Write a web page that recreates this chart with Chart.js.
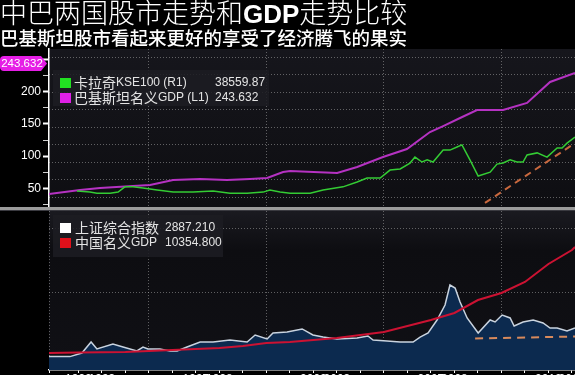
<!DOCTYPE html>
<html><head><meta charset="utf-8">
<script src="https://cdn.jsdelivr.net/npm/chart.js@4.4.0/dist/chart.umd.min.js"></script>
<style>
html,body{margin:0;padding:0;background:#000;width:575px;height:375px;overflow:hidden;}
#wrap{position:relative;width:575px;height:375px;background:#000;}
canvas{position:absolute;left:0;}
#top{top:0;}
#bot{top:211px;}
.t{position:absolute;left:0;color:#fff;white-space:nowrap;font-family:"Noto Sans CJK SC",sans-serif;z-index:5;}
#t1{top:-2px;font-size:27px;line-height:27px;font-weight:300;}
#t1 b{font-family:"Liberation Sans",Arial,sans-serif;font-weight:700;font-size:26px;}
#t2{top:28px;font-size:18.5px;line-height:19px;font-weight:500;}
#sep{position:absolute;left:0;top:207px;width:575px;height:3px;background:#9b9b9b;}
#sep2{position:absolute;left:0;top:210px;width:575px;height:1px;background:#3a3a40;}
</style></head><body>
<div id="wrap">
<canvas id="top" width="575" height="207"></canvas>
<canvas id="bot" width="575" height="164"></canvas>
<div id="sep"></div><div id="sep2"></div>
<div class="t" id="t1">中巴两国股市走势和<b>GDP</b>走势比较</div>
<div class="t" id="t2">巴基斯坦股市看起来更好的享受了经济腾飞的果实</div>
</div>
<script>
// ---------- DATA ----------
const xMin = 1990.75, xMax = 2013.13;
const gridYears = [1995, 2000, 2005, 2010];
const bottomTickYears = [1992,1993,1994,1995,1996,1997,1998,1999,2000,2001,2002,2003,2004,2005,2006,2007,2008,2009,2010,2011,2012,2013];
const xLabelYears = [1992,1993,1997,1998,2002,2003,2007,2008,2012,2013];

const leftTickValues = [25,50,75,100,125,150,175,200,225,250];
const leftLabelValues = [50,100,150,200];
const r1GridValues = [20000,25000,30000,35000,40000,45000,50000,55000,60000];
const shGridValues = [0,5000,10000];

// Karachi KSE100 (R1)
const kseYears = [1991.94,1992.49,1992.79,1993.35,1993.69,1993.98,1994.32,1994.75,1995.35,1996.03,1996.88,1997.73,1998.45,1999.18,1999.86,2000.15,2000.58,2001.01,2001.86,2002.41,2003.26,2003.86,2004.28,2004.84,2005.26,2005.69,2006.11,2006.32,2006.62,2006.84,2007.09,2007.52,2007.81,2008.11,2008.32,2008.66,2009.01,2009.52,2009.81,2010.07,2010.37,2010.66,2010.92,2011.09,2011.52,2011.94,2012.37,2012.58,2012.79,2013.13];
const kseValues = [21700,21400,21100,21100,21400,22900,22900,22600,22000,21400,21400,21700,21100,21100,21400,22000,21400,21100,21100,22000,22900,24300,25400,25400,27700,28000,29700,31400,30000,30600,30000,33400,33400,34300,34900,30600,26000,27100,29400,29700,30600,30000,30000,32000,32600,31400,34000,34000,35400,37100];
// Pakistan nominal GDP (L1)
const pkYears = [1990.75,1992.07,1992.92,1994.32,1995.05,1996.03,1997.18,1998.32,1999.30,2000.03,2000.71,2001.01,2003.01,2003.86,2004.96,2005.98,2006.96,2007.52,2008.24,2008.96,2010.07,2011.09,2012.07,2013.13];
const pkValues = [41.1,47.4,50.5,53.6,55.2,62.9,64.4,62.9,64.4,66.0,75.3,76.9,73.8,83.1,98.6,111.0,137.4,146.7,159.2,171.6,171.6,182.5,215.1,229.0];
// KSE trend (dashed)
const kseTrendYears = [2009.30, 2013.13];
const kseTrendValues = [18300, 35400];

// Shanghai Composite
const shYears = [1990.75,1991.00,1991.64,1992.15,1992.54,1992.79,1993.47,1993.90,1994.49,1994.75,1994.96,1995.47,1995.90,1996.20,1996.62,1997.18,1997.73,1998.45,1999.18,1999.52,2000.03,2000.28,2000.88,2001.52,2001.98,2002.41,2003.00,2003.86,2004.32,2004.54,2005.13,2005.69,2006.24,2006.54,2006.88,2007.26,2007.60,2007.81,2008.03,2008.24,2008.54,2009.01,2009.52,2009.73,2010.03,2010.37,2010.54,2010.92,2011.35,2011.77,2012.07,2012.37,2012.79,2013.13];
const shValues = [30,30,30,310,1170,625,1015,780,470,780,625,625,470,470,780,1170,1170,1330,1170,1720,1405,1875,1950,2190,1720,1560,1405,1485,1640,1330,1250,1170,1170,1560,1875,2890,4060,5625,5390,4300,3050,1875,2890,2735,3280,3050,2420,2735,2890,2655,2265,2265,2030,2265];
// China nominal GDP
const cnYears = [1990.75,1992,1994,1995,1996,1997,1998,1999,2000,2001,2002,2003,2004,2005,2006,2007,2008,2009,2010,2011,2012,2013,2013.13];
const cnValues = [50,100,150,240,340,440,530,730,1020,1120,1310,1510,1800,2090,2670,3260,3940,5200,5880,6950,8700,10060,10355];
// Shanghai trend (dashed)
const shTrendYears = [2008.88, 2013.13];
const shTrendValues = [1445, 1600];

const kseName = '卡拉奇KSE100 (R1)', kseLast = '38559.87';
const pkName = '巴基斯坦名义GDP (L1)', pkLast = '243.632';
const shName = '上证综合指数', shLast = '2887.210';
const cnName = '中国名义GDP', cnLast = '10354.800';

// ---------- HELPERS ----------
const pts = (xs, ys) => xs.map((x, i) => ({x, y: ys[i]}));
const CJK = /[\u3000-\u9fff\uff00-\uffef]+|[^\u3000-\u9fff\uff00-\uffef]+/g;
function drawMixed(ctx, text, x, y, cjkSize, latSize) {
  const runs = text.match(CJK) || [];
  let cx = x;
  runs.forEach(r => {
    const isC = /[\u3000-\u9fff\uff00-\uffef]/.test(r);
    ctx.font = isC ? cjkSize + 'px "Noto Sans CJK SC", sans-serif' : latSize + 'px "Liberation Sans", Arial, sans-serif';
    ctx.fillText(r, cx, y);
    cx += ctx.measureText(r).width;
  });
}
function legend(ctx, box, rows) {
  ctx.save();
  ctx.fillStyle = 'rgba(28,28,34,0.88)';
  ctx.fillRect(box.x, box.y, box.w, box.h);
  ctx.textBaseline = 'middle';
  ctx.textAlign = 'left';
  rows.forEach(r => {
    ctx.fillStyle = r.color;
    ctx.fillRect(box.sx, r.y - 5, 11, 10);
    ctx.fillStyle = '#e4e4e4';
    drawMixed(ctx, r.name, box.tx, r.y, 14, 12);
    ctx.font = '12px "Liberation Sans", Arial, sans-serif';
    ctx.fillText(r.value, box.vx, r.y);
  });
  ctx.restore();
}
const zeroPad = s => { s.paddingTop = 0; s.paddingBottom = 0; s.paddingLeft = 0; s.paddingRight = 0; };
const GRID = 'rgba(175,175,175,0.5)';

Chart.defaults.font.family = '"Liberation Sans", Arial, sans-serif';

// ---------- TOP CHART ----------
const bgTop = {
  id: 'bgTop',
  beforeDraw(c) {
    const {ctx, chartArea: a} = c;
    const g = ctx.createLinearGradient(0, a.top, 0, a.bottom);
    g.addColorStop(0, '#16161c');
    g.addColorStop(1, '#0e0e12');
    ctx.save(); ctx.fillStyle = g; ctx.fillRect(a.left, a.top, a.right - a.left, a.bottom - a.top); ctx.restore();
  }
};
const overTop = {
  id: 'overTop',
  afterDraw(c) {
    const ctx = c.ctx;
    legend(ctx, {x: 53, y: 70, w: 216, h: 36, sx: 60, tx: 74, vx: 215}, [
      {color: '#22e022', name: kseName, value: kseLast, y: 83},
      {color: '#e020e8', name: pkName, value: pkLast, y: 98}
    ]);
    const y = c.scales.y.getPixelForValue(parseFloat(pkLast));
    ctx.save();
    ctx.fillStyle = '#e61ee6';
    ctx.beginPath();
    ctx.moveTo(4, y - 7.5); ctx.lineTo(41, y - 7.5); ctx.lineTo(47, y); ctx.lineTo(41, y + 7.5);
    ctx.lineTo(4, y + 7.5); ctx.quadraticCurveTo(0, y + 7.5, 0, y + 3.5); ctx.lineTo(0, y - 3.5);
    ctx.quadraticCurveTo(0, y - 7.5, 4, y - 7.5); ctx.closePath(); ctx.fill();
    ctx.fillStyle = '#fff';
    ctx.font = '11.5px "Liberation Sans", Arial, sans-serif';
    ctx.textAlign = 'center'; ctx.textBaseline = 'middle';
    ctx.fillText(pkLast, 22, y + 0.5);
    ctx.restore();
  }
};

new Chart(document.getElementById('top'), {
  type: 'line',
  data: { datasets: [
    {label: 'trend', data: pts(kseTrendYears, kseTrendValues), yAxisID: 'y1', borderColor: '#c8683e', borderDash: [7, 5], borderWidth: 2, pointRadius: 0, order: 0},
    {label: kseName, data: pts(kseYears, kseValues), yAxisID: 'y1', borderColor: '#34cc34', borderWidth: 1.5, pointRadius: 0, order: 1},
    {label: pkName, data: pts(pkYears, pkValues), yAxisID: 'y', borderColor: '#b532c2', borderWidth: 2, pointRadius: 0, order: 2}
  ]},
  options: {
    responsive: false, animation: false, devicePixelRatio: 1,
    layout: {padding: {top: 49, left: 0, right: 0, bottom: 0}, autoPadding: false},
    plugins: {legend: {display: false}, tooltip: {enabled: false}},
    elements: {line: {tension: 0}},
    scales: {
      x: {type: 'linear', min: xMin, max: xMax, position: 'bottom',
        afterBuildTicks: s => { s.ticks = gridYears.map(v => ({value: v})); },
        ticks: {display: false}, grid: {color: GRID, drawTicks: false}, border: {display: false, dash: [1, 2]},
        afterFit: s => { s.height = 0; zeroPad(s); }},
      y: {position: 'left', min: 21, max: 266.3,
        afterBuildTicks: s => { s.ticks = leftTickValues.map(v => ({value: v})); },
        ticks: {color: '#fff', font: {size: 12}, padding: 2, autoSkip: false,
          callback: v => leftLabelValues.includes(v) ? String(v) : ''},
        grid: {drawOnChartArea: false, tickLength: 6,
          tickColor: ctx => (ctx.tick && ctx.tick.value % 50 === 0) ? '#ffffff' : '#cfcfcf',
          tickWidth: ctx => (ctx.tick && ctx.tick.value % 50 === 0) ? 2 : 1},
        border: {display: true, color: '#ffffff', width: 1.5},
        afterFit: s => { s.width = 49; zeroPad(s); }},
      y1: {position: 'right', min: 17143, max: 62286,
        afterBuildTicks: s => { s.ticks = r1GridValues.map(v => ({value: v})); },
        ticks: {display: false}, grid: {color: GRID, drawTicks: false}, border: {display: false, dash: [1, 2]},
        afterFit: s => { s.width = 0; zeroPad(s); }}
    }
  },
  plugins: [bgTop, overTop]
});

// ---------- BOTTOM CHART ----------
const bgBot = {
  id: 'bgBot',
  beforeDraw(c) {
    const {ctx, chartArea: a} = c;
    const g = ctx.createLinearGradient(0, a.top, 0, a.bottom);
    g.addColorStop(0, '#1a1a20');
    g.addColorStop(0.25, '#0d0d11');
    g.addColorStop(1, '#101015');
    ctx.save(); ctx.fillStyle = g; ctx.fillRect(a.left, a.top, a.right - a.left, a.bottom - a.top); ctx.restore();
  }
};
const overBot = {
  id: 'overBot',
  afterDraw(c) {
    legend(c.ctx, {x: 53, y: 4, w: 170, h: 42, sx: 60, tx: 75, vx: 165}, [
      {color: '#ffffff', name: shName, value: shLast, y: 17},
      {color: '#e0101a', name: cnName, value: cnLast, y: 32}
    ]);
  }
};

new Chart(document.getElementById('bot'), {
  type: 'line',
  data: { datasets: [
    {label: 'trend', data: pts(shTrendYears, shTrendValues), yAxisID: 'ySH', borderColor: '#d88a5c', borderDash: [8, 6], borderWidth: 2, pointRadius: 0, order: 0},
    {label: cnName, data: pts(cnYears, cnValues), yAxisID: 'yGDP', borderColor: '#cc1232', borderWidth: 2, pointRadius: 0, order: 1},
    {label: shName, data: pts(shYears, shValues), yAxisID: 'ySH', borderColor: '#c9d3df', borderWidth: 1.5, pointRadius: 0,
      fill: 'start', backgroundColor: '#0c2a4f', order: 2}
  ]},
  options: {
    responsive: false, animation: false, devicePixelRatio: 1,
    layout: {padding: {top: 0, left: 0, right: 0, bottom: 0}, autoPadding: false},
    plugins: {legend: {display: false}, tooltip: {enabled: false}},
    elements: {line: {tension: 0}},
    scales: {
      x: {type: 'linear', min: xMin, max: xMax, position: 'bottom',
        afterBuildTicks: s => { s.ticks = [xMin].concat(bottomTickYears).map(v => ({value: v})); },
        ticks: {color: '#fff', font: {size: 12}, padding: -1, autoSkip: false, maxRotation: 0,
          callback: v => xLabelYears.includes(v) ? String(v) : ''},
        grid: {color: ctx => (ctx.tick && (ctx.tick.value % 5 === 0 || ctx.tick.value === xMin)) ? GRID : 'rgba(0,0,0,0)',
          tickColor: '#ffffff', tickLength: 3, drawTicks: true},
        border: {display: true, color: '#ffffff', width: 1.5, dash: [1, 2]},
        afterFit: s => { s.height = 5; zeroPad(s); }},
      ySH: {position: 'left', min: -1016, max: 11406,
        afterBuildTicks: s => { s.ticks = shGridValues.map(v => ({value: v})); },
        ticks: {display: false}, grid: {color: GRID, drawTicks: false}, border: {display: false, dash: [1, 2]},
        afterFit: s => { s.width = 49; zeroPad(s); }},
      yGDP: {position: 'right', display: false, min: -1604, max: 13851}
    }
  },
  plugins: [bgBot, overBot]
});
</script>
</body></html>
